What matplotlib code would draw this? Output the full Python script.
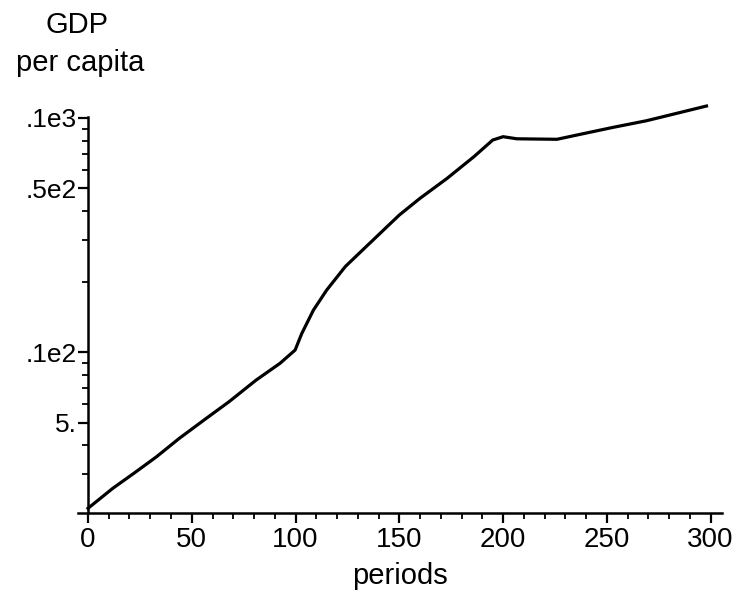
import matplotlib
matplotlib.use('Agg')
import matplotlib.pyplot as plt
from matplotlib.ticker import FixedLocator, FixedFormatter, NullFormatter

# values (log scale in y)
periods = [0, 12, 22, 33, 44, 57, 68, 81, 92.5, 99.8, 103, 108.6, 115, 124, 134,
           150, 160, 173, 186, 195, 200, 206.6, 226, 237, 253, 269, 285, 298]
gdp = [2.15, 2.62, 3.03, 3.57, 4.28, 5.21, 6.14, 7.59, 8.95, 10.2, 12.0, 15.1, 18.4,
       23.2, 28.2, 38.5, 45.4, 55.2, 68.4, 80.5, 83.2, 81.5, 81.1, 85.1, 91.2, 97.3,
       105.4, 112.5]

y_ticks = [5, 10, 50, 100]
y_labels = ['5.', '.1e2', '.5e2', '.1e3']
y_minor = [3, 4, 6, 7, 8, 9, 20, 30, 40, 60, 70, 80, 90]
x_ticks = [0, 50, 100, 150, 200, 250, 300]

tick_font = ['Liberation Sans Narrow', 'Liberation Sans', 'DejaVu Sans']
label_font = ['Liberation Sans', 'DejaVu Sans']

fig = plt.figure(figsize=(7.34, 5.99), dpi=100)
ax = fig.add_axes([0.1063, 0.1441, 0.8774, 0.6606])

ax.plot(periods, gdp, color='black', lw=2.3, clip_on=False)
ax.set_yscale('log')
ax.set_xlim(-4.8, 305.5)
ax.set_ylim(2.06, 101)

ax.spines['top'].set_visible(False)
ax.spines['right'].set_visible(False)
ax.spines['left'].set_position(('data', 0))
ax.spines['left'].set_linewidth(1.8)
ax.spines['bottom'].set_linewidth(1.8)

ax.yaxis.set_major_locator(FixedLocator(y_ticks))
ax.yaxis.set_major_formatter(FixedFormatter(y_labels))
ax.yaxis.set_minor_locator(FixedLocator(y_minor))
ax.yaxis.set_minor_formatter(NullFormatter())
ax.set_xticks(x_ticks)
ax.set_xticks(range(10, 300, 10), minor=True)

ax.tick_params(axis='both', which='major', length=7, width=1.6, direction='out')
ax.tick_params(axis='both', which='minor', length=4, width=1.3, direction='out')
ax.tick_params(axis='y', which='major', pad=1)
ax.tick_params(axis='x', which='major', pad=3)
for lab in ax.get_xticklabels():
    lab.set_fontfamily(tick_font)
    lab.set_fontsize(20)
for lab in ax.get_yticklabels():
    lab.set_fontfamily(tick_font)
    lab.set_fontsize(19)

fig.text(77 / 734, 1 - 25 / 599, 'GDP', ha='center', va='center',
         fontsize=21, family=label_font)
fig.text(80 / 734, 1 - 63 / 599, 'per capita', ha='center', va='center',
         fontsize=21, family=label_font)
fig.text(400 / 734, 1 - 576 / 599, 'periods', ha='center', va='center',
         fontsize=21, family=label_font)

fig.savefig('out.png', dpi=100)
